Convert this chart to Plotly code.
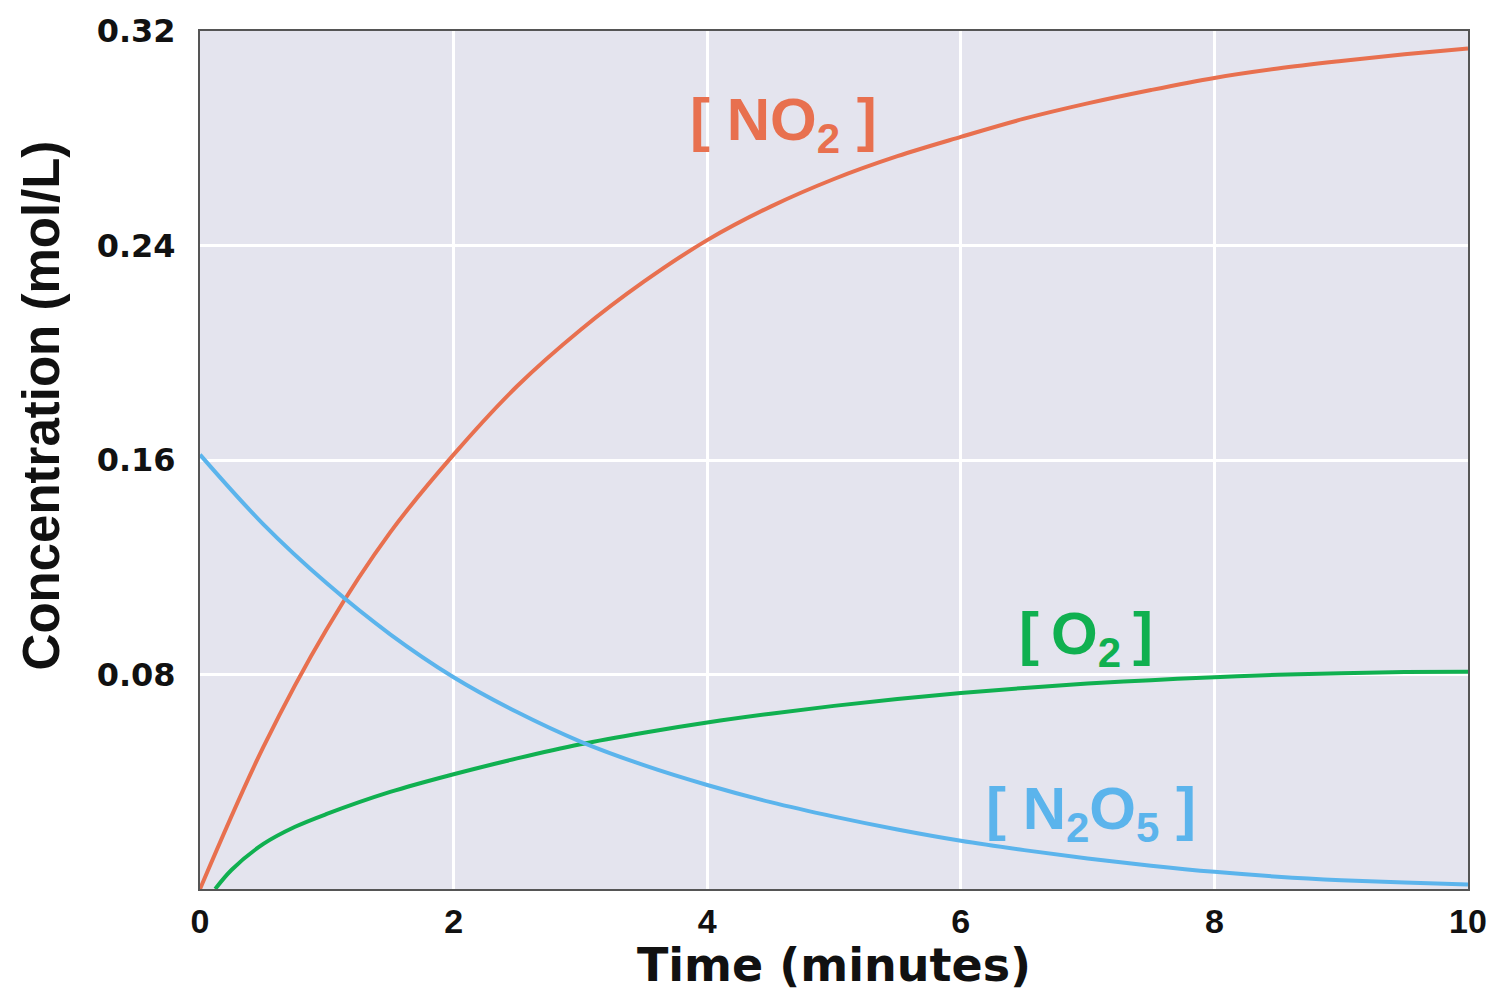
import plotly.graph_objects as go

# Decomposition of N2O5: concentrations (mol/L) against time (minutes)
time_min = [0.0, 0.5, 1.0, 1.5, 2.0, 2.5, 3.0, 3.5, 4.0, 4.5, 5.0,
            5.5, 6.0, 6.5, 7.0, 7.5, 8.0, 8.5, 9.0, 9.5, 10.0]

no2 = [0.000, 0.053, 0.097, 0.133, 0.162, 0.1875, 0.2085, 0.2265, 0.242, 0.2545, 0.2648,
       0.2733, 0.2805, 0.2873, 0.2930, 0.2980, 0.3025, 0.3060, 0.3088, 0.3113, 0.3135]

n2o5 = [0.162, 0.136, 0.114, 0.095, 0.079, 0.066, 0.055, 0.0462, 0.0388, 0.0324, 0.0270,
        0.0222, 0.0180, 0.0145, 0.0114, 0.0087, 0.0064, 0.0046, 0.0033, 0.0024, 0.0017]

o2_time = [0.12, 0.25, 0.5, 0.75, 1.0, 1.5, 2.0, 2.5, 3.0, 3.5, 4.0, 4.5, 5.0,
           5.5, 6.0, 6.5, 7.0, 7.5, 8.0, 8.5, 9.0, 9.5, 10.0]
o2 = [0.000, 0.0072, 0.0168, 0.0232, 0.0280, 0.0362, 0.0428, 0.0487, 0.0540, 0.0583, 0.0621,
      0.0654, 0.0683, 0.0709, 0.0731, 0.0750, 0.0766, 0.0779, 0.0790, 0.0799, 0.0805,
      0.0809, 0.0810]

x_ticks = [0, 2, 4, 6, 8, 10]
y_ticks = [0.08, 0.16, 0.24, 0.32]
y_tick_text = ["0.08", "0.16", "0.24", "0.32"]

RED = "#E8704F"
GREEN = "#10B050"
BLUE = "#5BB4EC"

fig = go.Figure()
fig.add_trace(go.Scatter(x=time_min, y=no2, mode="lines", line=dict(color=RED, width=4, shape="spline")))
fig.add_trace(go.Scatter(x=o2_time, y=o2, mode="lines", line=dict(color=GREEN, width=4, shape="spline")))
fig.add_trace(go.Scatter(x=time_min, y=n2o5, mode="lines", line=dict(color=BLUE, width=4, shape="spline")))

label_font = "Liberation Sans, Arial, sans-serif"

# Species labels placed next to their curves
fig.add_annotation(x=4.6, y=0.2853, text="<b>[ NO<sub>2</sub> ]</b>", showarrow=False,
                   font=dict(family=label_font, size=60, color=RED))
fig.add_annotation(x=6.99, y=0.0937, text="<b>[\u2009O<sub>2</sub>\u2009]</b>", showarrow=False,
                   font=dict(family=label_font, size=60, color=GREEN))
fig.add_annotation(x=7.03, y=0.0285, text="<b>[ N<sub>2</sub>O<sub>5</sub> ]</b>", showarrow=False,
                   font=dict(family=label_font, size=60, color=BLUE))

# Vertical axis title
fig.add_annotation(xref="paper", yref="paper", x=-0.125, y=0.563, textangle=-90,
                   xanchor="center", yanchor="middle",
                   text="<b>Concentration (mol/L)</b>", showarrow=False,
                   font=dict(family=label_font, size=51, color="#111111"))

fig.update_layout(
    width=1501, height=992, autosize=False,
    margin=dict(l=200, r=33, t=28, b=102),
    paper_bgcolor="white", plot_bgcolor="#E4E4EE",
    showlegend=False,
)
fig.update_xaxes(
    range=[0, 10], tickvals=x_ticks, ticks="outside", ticklen=1, tickcolor="rgba(0,0,0,0)",
    tickfont=dict(family=label_font, size=34, color="#111111", weight="bold"),
    showgrid=True, gridcolor="white", gridwidth=3, zeroline=False,
    showline=True, mirror=True, linecolor="#555555", linewidth=2,
    title=dict(text="<b>Time (minutes)</b>", standoff=8,
               font=dict(family="DejaVu Sans, sans-serif", size=46, color="#111111")),
)
fig.update_yaxes(
    range=[0, 0.32], tickvals=y_ticks, ticktext=y_tick_text, ticks="outside", ticklen=16,
    tickcolor="rgba(0,0,0,0)",
    tickfont=dict(family="DejaVu Sans, sans-serif", size=32, color="#111111", weight="bold"),
    showgrid=True, gridcolor="white", gridwidth=3, zeroline=False,
    showline=True, mirror=True, linecolor="#555555", linewidth=2,
)

fig.write_html("out.html")
